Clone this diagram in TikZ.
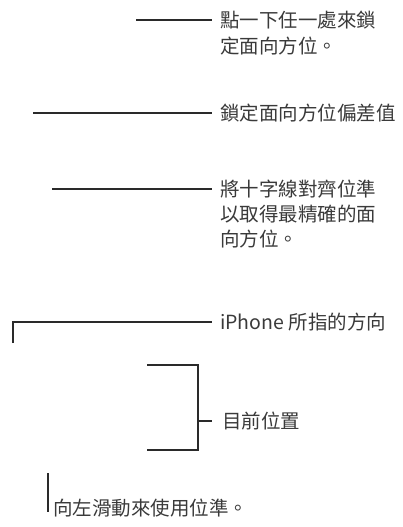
\documentclass[tikz,border=0pt]{standalone}
\usepackage{fontspec}
\newfontfamily\cjk{Noto Sans CJK TC}
\definecolor{txt}{HTML}{3A3A3A}
\definecolor{ln}{HTML}{2A2A2A}
\begin{document}
\begin{tikzpicture}[x=1pt,y=-1pt,
  lbl/.style={anchor=west,inner sep=0pt,font=\cjk\fontsize{19.5}{25}\selectfont,text=txt},
  lead/.style={draw=ln,line width=1.2pt}]
\useasboundingbox (0,0) rectangle (403,527);
% 1
\node[lbl] (t1a) at (220,20) {點一下任一處來鎖};
\node[lbl] (t1b) at (220,46) {定面向方位。};
\coordinate (c1) at (136,20);
\draw[lead] (c1) -- ([xshift=-8pt]t1a.west);
% 2
\node[lbl] (t2) at (220,113) {鎖定面向方位偏差值};
\coordinate (c2) at (33,113);
\draw[lead] (c2) -- ([xshift=-8pt]t2.west);
% 3
\node[lbl] (t3a) at (220,189) {將十字線對齊位準};
\node[lbl] (t3b) at (220,214) {以取得最精確的面};
\node[lbl] (t3c) at (220,239) {向方位。};
\coordinate (c3) at (52,189);
\draw[lead] (c3) -- ([xshift=-8pt]t3a.west);
% 4
\node[lbl] (t4) at (220,322) {iPhone 所指的方向};
\coordinate (c4) at (13,343);
\draw[lead] (c4) |- ([xshift=-8pt]t4.west);
% 5
\node[lbl] (t5) at (222,421) {目前位置};
\coordinate (c5a) at (147,365);
\coordinate (c5b) at (147,450);
\coordinate (c5m) at (198,421);
\draw[lead] (c5a) -| (c5m) |- (c5b);
\draw[lead] (c5m) -- ([xshift=-10pt]t5.west);
% 6
\node[lbl] (t6) at (53,508) {向左滑動來使用位準。};
\coordinate (c6) at (48,473);
\draw[lead] (c6) -- (48,512);
\end{tikzpicture}
\end{document}
